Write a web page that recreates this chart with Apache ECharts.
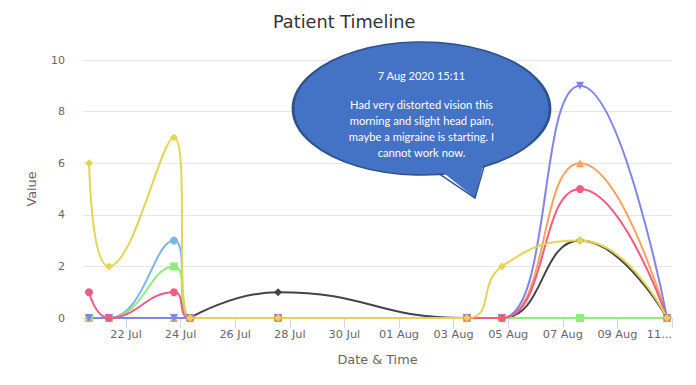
<!DOCTYPE html>
<html>
<head>
<meta charset="utf-8">
<script src="https://cdn.jsdelivr.net/npm/echarts@6/dist/echarts.min.js"></script>
<style>html,body{margin:0;padding:0;background:#fff}#c{width:696px;height:385px}</style>
</head>
<body>
<div id="c"></div>
<script>
// ---- data ----
const times = ['2020-07-20 15:30','2020-07-21 09:00','2020-07-23 18:10','2020-07-24 08:15','2020-07-27 13:40','2020-08-03 11:45','2020-08-04 18:30','2020-08-07 15:11','2020-08-10 19:40'];
const seriesNames = ['Series 1','Series 2','Series 3','Series 4','Series 5','Series 6','Series 7'];
const s1Values = [0, 0, 3, 0, 0, 0, 0, 0, 0];
const s2Values = [null, null, null, 0, 1, 0, 0, 3, 0];
const s3Values = [0, 0, 2, 0, 0, 0, 0, 0, 0];
const s4Values = [0, 0, 0, 0, 0, 0, 0, 6, 0];
const s5Values = [0, 0, 0, 0, 0, 0, 0, 9, 0];
const s6Values = [1, 0, 1, 0, 0, 0, 0, 5, 0];
const s7Values = [6, 2, 7, 0, 0, 0, 2, 3, 0];
const tickDates = ['2020-07-22','2020-07-24','2020-07-26','2020-07-28','2020-07-30','2020-08-01','2020-08-03','2020-08-05','2020-08-07','2020-08-09','2020-08-11'];
const tickLabels = ['22 Jul','24 Jul','26 Jul','28 Jul','30 Jul','01 Aug','03 Aug','05 Aug','07 Aug','09 Aug','11...'];
const noteTitle = '7 Aug 2020 15:11';
const noteText = 'Had very distorted vision this\nmorning and slight head pain,\nmaybe a migraine is starting. I\ncannot work now.';

// ---- chart ----
const DAY = 86400000;
const ts = s => new Date(s.length === 10 ? s + 'T00:00' : s.replace(' ', 'T')).getTime();
const tickTs = tickDates.map(ts);
const xMin = ts('2020-07-20 10:12'), xMax = ts('2020-08-11 00:00');
const t0 = tickTs[0];
const colors = ['#7cb5ec','#434348','#90ed7d','#f7a35c','#8085e9','#f15c80','#e4d354'];
const symbols = ['circle','diamond','rect','triangle','triangle','circle','diamond'];
const rotates = [0,0,0,0,180,0,0];
const allValues = [s1Values,s2Values,s3Values,s4Values,s5Values,s6Values,s7Values];

const chart = echarts.init(document.getElementById('c'), null, {renderer: 'svg'});
const font = "'DejaVu Sans', sans-serif";
chart.setOption({
  animation: false,
  color: colors,
  title: {
    text: 'Patient Timeline', left: 268, top: 8,
    textStyle: {fontFamily: font, fontSize: 17.7, fontWeight: 'normal', color: '#333333'}
  },
  grid: {left: 83, right: 24, top: 60, bottom: 67},
  xAxis: [{
    type: 'time', min: xMin, max: xMax,
    name: 'Date & Time', nameLocation: 'middle', nameGap: 35,
    nameTextStyle: {fontFamily: font, fontSize: 12.8, color: '#666666'},
    axisLine: {lineStyle: {color: '#ccd6eb', width: 1}},
    axisTick: {show: true, length: 10, lineStyle: {color: '#ccd6eb'}, customValues: tickTs},
    axisLabel: {show: false},
    splitLine: {show: false}
  }, {
    // same scale expressed in days from 22 Jul, used only to place the tick labels
    type: 'value', position: 'bottom',
    min: (xMin - t0) / DAY, max: (xMax - t0) / DAY,
    axisLine: {show: false}, axisTick: {show: false}, splitLine: {show: false},
    axisLabel: {
      customValues: tickTs.map(t => (t - t0) / DAY),
      formatter: v => { const i = tickTs.findIndex(t => Math.abs((t - t0) / DAY - v) < 0.01); return i >= 0 ? tickLabels[i] : ''; },
      fontFamily: font, fontSize: 11.3, color: '#666666', margin: 11, hideOverlap: false,
      showMinLabel: true, showMaxLabel: true, alignMaxLabel: 'right'
    }
  }],
  yAxis: {
    type: 'value', min: 0, max: 10, interval: 2,
    name: 'Value', nameLocation: 'middle', nameGap: 45, nameRotate: 90,
    nameTextStyle: {fontFamily: font, fontSize: 12.8, color: '#666666'},
    axisLine: {show: false}, axisTick: {show: false},
    axisLabel: {fontFamily: font, fontSize: 11, color: '#666666', margin: 18},
    splitLine: {lineStyle: {color: '#e6e6e6'}}
  },
  series: allValues.map((vals, k) => ({
    name: seriesNames[k], type: 'line', xAxisIndex: 0,
    smooth: 0.5,
    symbol: symbols[k], symbolRotate: rotates[k], symbolSize: 8, showSymbol: true,
    lineStyle: {width: 2, color: colors[k]},
    itemStyle: {color: colors[k]},
    data: times.map((t, i) => [ts(t), vals[i]])
  })),
  graphic: [
    {type: 'circle', x: 421.5, y: 108.5, scaleX: 128.5 / 66.5, scaleY: 1, shape: {cx: 0, cy: 0, r: 66.5},
     style: {fill: '#4472c4', stroke: '#2f528f', lineWidth: 1.5, strokeNoScale: true}, z: 100},
    {type: 'polygon', shape: {points: [[440, 170], [475, 198], [484, 162], [460, 158]]},
     style: {fill: '#4472c4'}, z: 101},
    {type: 'polyline', shape: {points: [[440, 174.3], [475, 198], [484, 166.6]]},
     style: {stroke: '#2f528f', lineWidth: 1.5, fill: null}, z: 102},
    {type: 'text', x: 421.5, y: 75.5, z: 103,
     style: {text: noteTitle, fill: '#ffffff', font: "11px Lato", textAlign: 'center', textVerticalAlign: 'middle'}},
    {type: 'text', x: 421.5, y: 128, z: 103,
     style: {text: noteText, fill: '#ffffff', font: "11.2px Lato", lineHeight: 16, textAlign: 'center', textVerticalAlign: 'middle'}}
  ]
});
</script>
</body>
</html>
